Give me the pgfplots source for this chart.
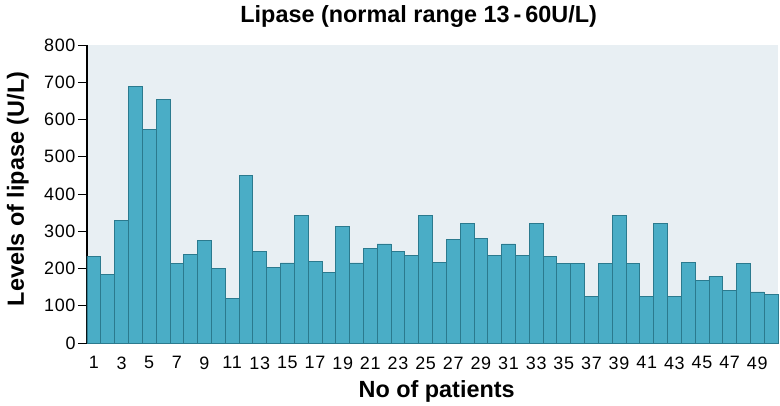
\documentclass[border=0pt]{standalone}
\usepackage{fontspec}
\setmainfont{Liberation Sans}
\newfontfamily\tickfont[LetterSpace=4]{Liberation Sans}
\usepackage{pgfplots}
\pgfplotsset{compat=1.18}
\definecolor{barfill}{HTML}{4AADC6}
\definecolor{baredge}{HTML}{2B7A8E}
\definecolor{bgc}{HTML}{E8EFF3}
\begin{document}
\begin{tikzpicture}
\begin{axis}[
  scale only axis,
  width=691bp, height=298bp,
  at={(0,0)}, anchor=south west,
  xmin=0.5, xmax=50.5, ymin=0, ymax=800,
  axis x line=bottom, axis y line=left,
  axis line style={-, black, line width=1.2pt},
  axis background/.style={fill=bgc},
  ytick={0,100,...,800},
  xtick={1,3,...,49},
  x tick style={draw=none},
  y tick style={black, line width=0.8pt},
  major tick length=9bp,
  tick align=outside,
  /pgf/number format/assume math mode=true,
  tick label style={font=\tickfont\fontsize{18}{21}\selectfont},
  xticklabel style={yshift=-1bp},
  yticklabel style={xshift=1bp},
  title={\textbf{Lipase (normal range 13\,-\,60U/L)}},
  title style={font=\fontsize{23.5}{28}\selectfont, at={(0.48,1)}, anchor=base, yshift=17bp},
  xlabel={\textbf{No of patients}},
  xlabel style={font=\fontsize{23.5}{28}\selectfont, at={(0.506,0)}, anchor=base, yshift=-54bp},
  ylabel={\textbf{Levels of lipase (U/L)}},
  ylabel style={font=\fontsize{23.5}{28}\selectfont, at={(0,0.517)}, anchor=base, yshift=63bp},
  clip=false,
]
\addplot[ybar, bar width=1, fill=barfill, draw=baredge, line width=0.8pt] coordinates {
(1,233) (2,185) (3,328) (4,688) (5,573) (6,655) (7,213) (8,237) (9,275) (10,200)
(11,120) (12,450) (13,246) (14,204) (15,215) (16,343) (17,218) (18,190) (19,313) (20,215)
(21,254) (22,266) (23,246) (24,236) (25,343) (26,216) (27,277) (28,322) (29,280) (30,236)
(31,266) (32,236) (33,322) (34,233) (35,214) (36,214) (37,124) (38,214) (39,343) (40,214)
(41,124) (42,322) (43,125) (44,216) (45,167) (46,178) (47,140) (48,214) (49,137) (50,130)
};
\end{axis}
\path[use as bounding box] (-87bp,-62bp) rectangle (693bp,343bp);
\end{tikzpicture}
\end{document}
